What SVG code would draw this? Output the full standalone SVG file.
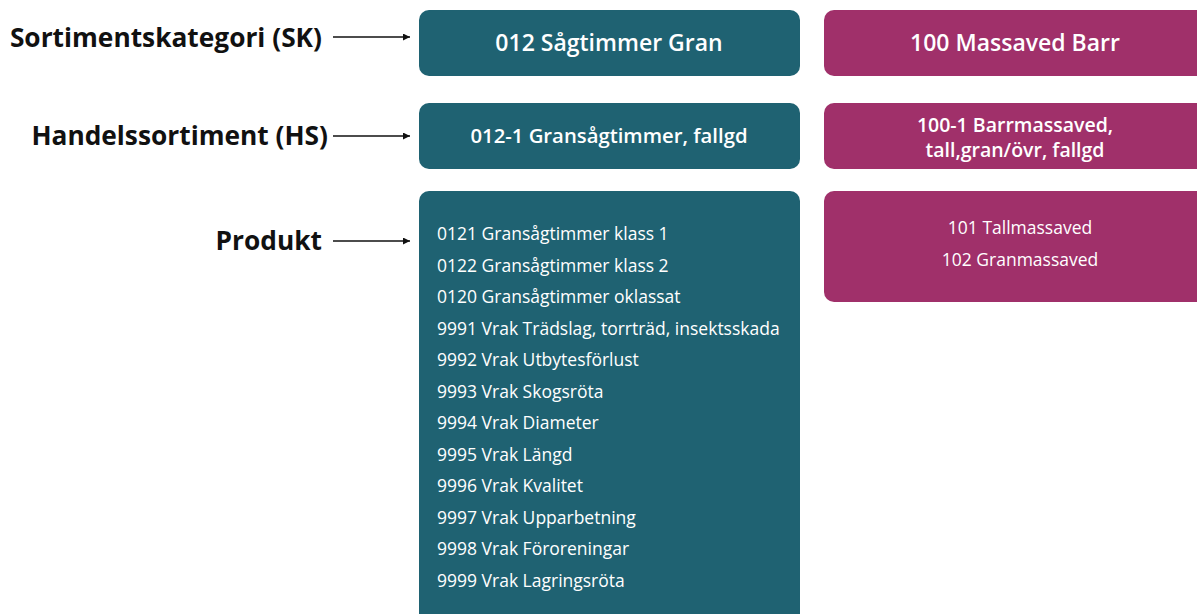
<svg xmlns="http://www.w3.org/2000/svg" width="1197" height="614" viewBox="0 0 1197 614">
  <defs>
    <marker id="arrow" viewBox="0 0 10 10" refX="10" refY="5" markerWidth="7" markerHeight="7" markerUnits="userSpaceOnUse" orient="auto">
      <path d="M0,0 L10,5 L0,10 z" fill="#111"/>
    </marker>
    <style>
      .lbl { font-family: "Open Sans", "Liberation Sans", sans-serif; font-weight: 700; font-size: 26.3px; fill: #111; text-anchor: end; }
      .teal { fill: #1f6272; }
      .pink { fill: #a0306a; }
      .head { font-family: "Open Sans", "Liberation Sans", sans-serif; font-weight: 600; font-size: 23px; fill: #fff; text-anchor: middle; }
      .sub { font-family: "Open Sans", "Liberation Sans", sans-serif; font-weight: 600; font-size: 20.3px; fill: #fff; text-anchor: middle; }
      .sub2 { font-family: "Open Sans", "Liberation Sans", sans-serif; font-weight: 600; font-size: 19.5px; fill: #fff; text-anchor: middle; }
      .item { font-family: "Open Sans", "Liberation Sans", sans-serif; font-size: 17.5px; fill: #fff; }
      .conn { stroke: #111; stroke-width: 1.6; fill: none; marker-end: url(#arrow); }
    </style>
  </defs>
  <rect width="1197" height="614" fill="#fff"/>

  <!-- level labels -->
  <g id="label-sk"><text class="lbl" x="322" y="47">Sortimentskategori (SK)</text></g>
  <g id="label-hs"><text class="lbl" x="328" y="145">Handelssortiment (HS)</text></g>
  <g id="label-produkt"><text class="lbl" x="322" y="250">Produkt</text></g>

  <g id="connectors">
    <line class="conn" x1="333" y1="37" x2="410" y2="37"/>
    <line class="conn" x1="333" y1="136" x2="410" y2="136"/>
    <line class="conn" x1="333" y1="241" x2="410" y2="241"/>
  </g>

  <!-- spruce saw log column -->
  <g id="sk-012">
    <rect class="teal" x="419" y="10" width="381" height="66" rx="10"/>
    <text class="head" x="609" y="51">012 Sågtimmer Gran</text>
  </g>
  <g id="hs-012-1">
    <rect class="teal" x="419" y="103" width="381" height="66" rx="10"/>
    <text class="sub" x="609" y="143">012-1 Gransågtimmer, fallgd</text>
  </g>
  <g id="produkt-012">
    <rect class="teal" x="419" y="191" width="381" height="440" rx="10"/>
    <text class="item" x="437" y="240">0121 Gransågtimmer klass 1</text>
    <text class="item" x="437" y="272">0122 Gransågtimmer klass 2</text>
    <text class="item" x="437" y="303">0120 Gransågtimmer oklassat</text>
    <text class="item" x="437" y="335">9991 Vrak Trädslag, torrträd, insektsskada</text>
    <text class="item" x="437" y="366">9992 Vrak Utbytesförlust</text>
    <text class="item" x="437" y="398">9993 Vrak Skogsröta</text>
    <text class="item" x="437" y="429">9994 Vrak Diameter</text>
    <text class="item" x="437" y="461">9995 Vrak Längd</text>
    <text class="item" x="437" y="492">9996 Vrak Kvalitet</text>
    <text class="item" x="437" y="524">9997 Vrak Upparbetning</text>
    <text class="item" x="437" y="555">9998 Vrak Föroreningar</text>
    <text class="item" x="437" y="587">9999 Vrak Lagringsröta</text>
  </g>

  <!-- conifer pulpwood column -->
  <g id="sk-100">
    <rect class="pink" x="824" y="10" width="390" height="66" rx="10"/>
    <text class="head" x="1015" y="51">100 Massaved Barr</text>
  </g>
  <g id="hs-100-1">
    <rect class="pink" x="824" y="103" width="390" height="66" rx="10"/>
    <text class="sub2" x="1015" y="132">100-1 Barrmassaved,</text>
    <text class="sub2" x="1015" y="157">tall,gran/övr, fallgd</text>
  </g>
  <g id="produkt-100">
    <rect class="pink" x="824" y="191" width="390" height="111" rx="10"/>
    <text class="item" x="1020" y="234" text-anchor="middle">101 Tallmassaved</text>
    <text class="item" x="1020" y="266" text-anchor="middle">102 Granmassaved</text>
  </g>
</svg>
